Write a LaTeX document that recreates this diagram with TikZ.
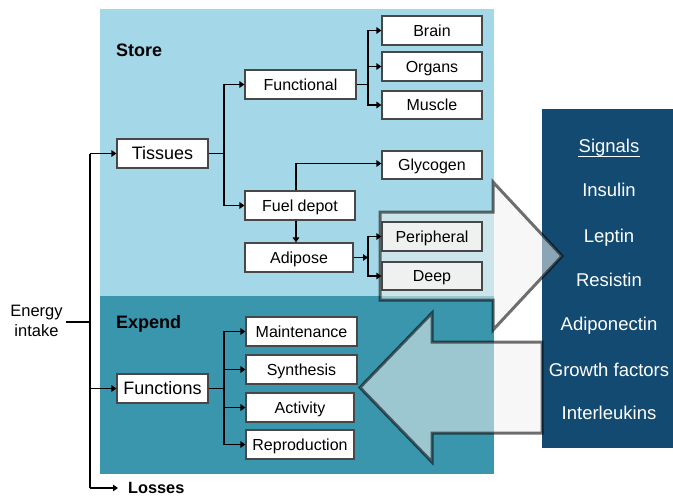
\documentclass[tikz,border=0pt]{standalone}
\usepackage{fontspec}
\setmainfont{Liberation Sans}
\usetikzlibrary{arrows.meta}
\definecolor{storebg}{HTML}{A4D8E8}
\definecolor{expendbg}{HTML}{3A96AC}
\definecolor{signalbg}{HTML}{134A72}
\definecolor{arrowfill}{HTML}{EEF0EF}
\definecolor{shadedbox}{HTML}{EFF1F0}
\begin{document}
\begin{tikzpicture}[x=1pt,y=-1pt,
  box/.style={draw=black!72,line width=1.1pt,fill=white,inner sep=0pt,
    minimum height=29pt,text height=11.45pt,text depth=0pt,
    font=\fontsize{16}{18}\selectfont},
  bigbox/.style={box,text height=12.9pt,font=\fontsize{18}{20}\selectfont},
  title/.style={font=\bfseries\fontsize{18}{20}\selectfont,anchor=west,inner sep=0pt,
    text height=12.9pt,text depth=0pt},
  sig/.style={text=white,font=\fontsize{18.5}{20}\selectfont,inner sep=0pt,
    text height=13.25pt,text depth=0pt},
  conn/.style={line width=1.7pt,black},
  arr/.style={conn,-{Triangle[length=5pt,width=6.5pt]}},
  bigarrow/.style={fill=arrowfill,fill opacity=0.55,draw=black,draw opacity=0.56,
    line width=3pt,line join=miter}
]
\useasboundingbox (0,0) rectangle (673,496);
% panels
\fill[storebg] (100,9) rectangle (494,296);
\fill[expendbg] (100,296) rectangle (494,474);
\fill[signalbg] (542,109) rectangle (673,448);

% titles
\node[title] (store) at (116,50) {Store};
\node[title] (expend) at (116,322) {Expend};
\node[title,font=\bfseries\fontsize{16.3}{18}\selectfont,text height=11.7pt] (losses) at (128,488) {Losses};
\node[align=center,inner sep=3pt,font=\fontsize{16.5}{20}\selectfont] (energy) at (36.5,320.5) {Energy\\intake};

% boxes
\node[bigbox,minimum width=91pt] (tissues) at (162.5,153.5) {Tissues};
\node[box,minimum width=111pt] (functional) at (300.5,84.5) {Functional};
\node[box,minimum width=100pt] (brain) at (432,30.5) {Brain};
\node[box,minimum width=100pt] (organs) at (432,66.5) {Organs};
\node[box,minimum width=100pt,minimum height=28pt] (muscle) at (432,105) {Muscle};
\node[box,minimum width=100pt,minimum height=28pt] (glycogen) at (432,165) {Glycogen};
\node[box,minimum width=110pt] (fuel) at (300,205.5) {Fuel depot};
\node[box,minimum width=108pt] (adipose) at (299,257.5) {Adipose};
\node[bigbox,minimum width=91pt] (functions) at (162.5,388.5) {Functions};
\node[box,minimum width=111pt] (maint) at (301.5,331.5) {Maintenance};
\node[box,minimum width=111pt] (synth) at (301.5,369.5) {Synthesis};
\node[box,minimum width=108pt] (activity) at (300,407.5) {Activity};
\node[box,minimum width=108pt] (repro) at (300,444.5) {Reproduction};

% signals
\node[sig] (signals) at (609,146) {Signals};
\draw[white,line width=1.1pt] ([yshift=-3.8pt]signals.south west) -- ([yshift=-3.8pt]signals.south east);
\node[sig] (insulin) at (609,190) {Insulin};
\node[sig] (leptin) at (609,236) {Leptin};
\node[sig] (resistin) at (609,280) {Resistin};
\node[sig] (adipo) at (609,324) {Adiponectin};
\node[sig] (growth) at (609,370) {Growth factors};
\node[sig] (inter) at (609,413) {Interleukins};

% big translucent arrows
\draw[bigarrow] (380,212) -- (493,212) -- (493,182) -- (562,256) -- (493,330) -- (493,300) -- (380,300) -- cycle;
\draw[bigarrow] (542,342) -- (432,342) -- (432,313) -- (360,387.5) -- (432,462) -- (432,433) -- (542,433) -- cycle;

% boxes lying inside the right arrow
\node[box,fill=shadedbox,minimum width=100pt] (peripheral) at (432,236.5) {Peripheral};
\node[box,fill=shadedbox,minimum width=100pt,minimum height=28pt] (deep) at (432,276) {Deep};

% connectors
\coordinate (jE) at (90,322);
\coordinate (jT) at (224,153.5);
\coordinate (jF) at (368,84.5);
\coordinate (jA) at (368,257.5);
\coordinate (jX) at (224,388.5);
\draw[conn] (energy.east |- jE) -- (jE);
\draw[conn] (jE |- tissues.west) -- (jE |- losses.west);
\draw[arr] (jE |- tissues.west) -- (tissues.west);
\draw[arr] (jE |- functions.west) -- (functions.west);
\draw[arr] (jE |- losses.west) -- ([xshift=-10pt]losses.west);

\draw[conn] (tissues.east) -- (jT);
\draw[arr] (jT) |- (functional.west);
\draw[arr] (jT) |- (fuel.west);

\draw[conn] (functional.east) -- (jF);
\draw[arr] (jF) |- (brain.west);
\draw[arr] (jF) |- (organs.west);
\draw[arr] (jF) |- (muscle.west);

\draw[arr] ([xshift=-4pt]fuel.north) |- ([yshift=1.5pt]glycogen.west);
\draw[arr] ([xshift=-4pt]fuel.south) -- ([xshift=-3pt]adipose.north);

\draw[arr] (adipose.east) -- (jA);
\draw[arr] (jA) |- (peripheral.west);
\draw[arr] (jA) |- (deep.west);

\draw[conn] (functions.east) -- (jX);
\draw[arr] (jX) |- (maint.west);
\draw[arr] (jX) |- (synth.west);
\draw[arr] (jX) |- (activity.west);
\draw[arr] (jX) |- (repro.west);
\end{tikzpicture}
\end{document}
